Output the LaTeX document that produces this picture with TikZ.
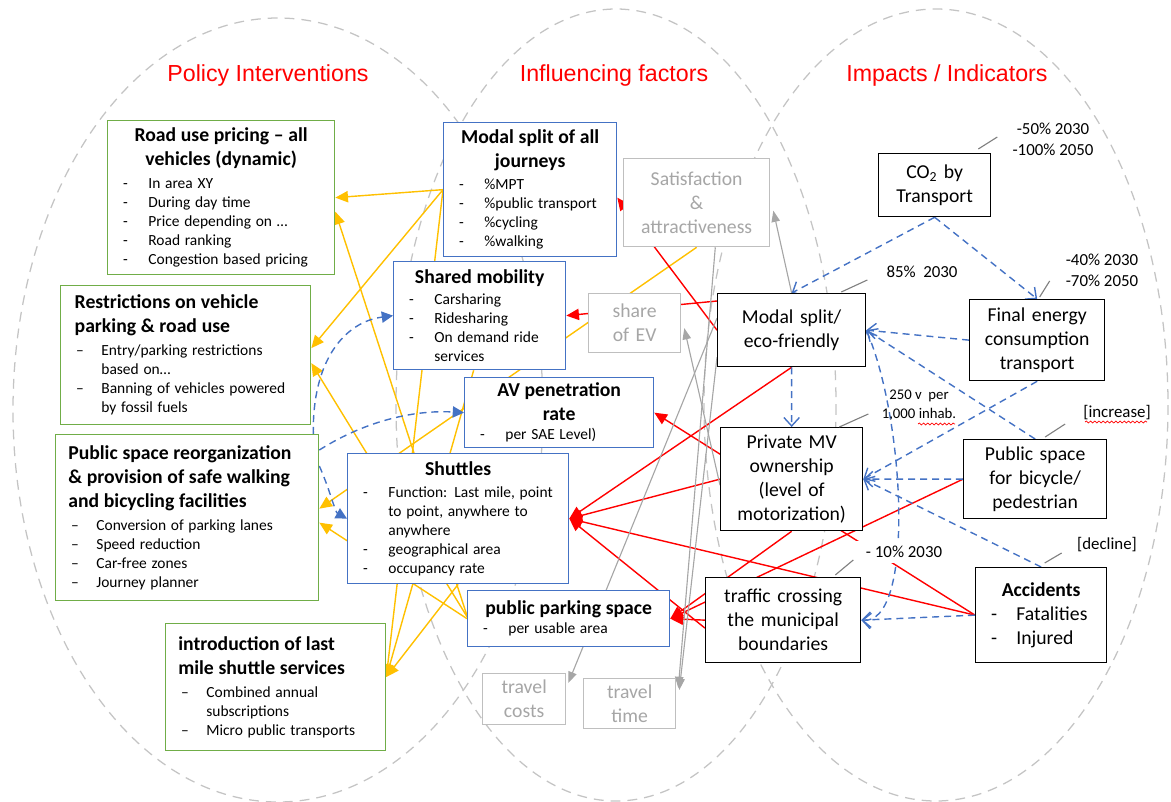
\documentclass[tikz,border=0pt]{standalone}
\usepackage{fontspec}
\setmainfont{Carlito}
\newfontfamily\titlefont{Liberation Sans}
\usetikzlibrary{positioning, arrows.meta, calc, decorations.pathmorphing}

\definecolor{polgreen}{HTML}{70AD47}
\definecolor{facblue}{HTML}{4472C4}
\definecolor{linkyellow}{HTML}{FFC000}
\definecolor{softgray}{HTML}{A6A6A6}
\definecolor{framegray}{HTML}{BFBFBF}
\definecolor{ellgray}{HTML}{C4C4C4}

\newcommand{\headfont}{\fontsize{14}{17}\selectfont\bfseries}
\newcommand{\bodyfont}{\normalfont\fontsize{11}{13.5}\selectfont}
\newcommand{\boxfont}{\normalfont\fontsize{14}{17}\selectfont}
\newcommand{\notefont}{\fontsize{12}{15}\selectfont}
\newcommand{\itm}[1]{\par\hangindent=24pt\hangafter=1\noindent\makebox[24pt][l]{\hspace{6pt}-}#1}
\newcommand{\itmd}[1]{\par\hangindent=24pt\hangafter=1\noindent\makebox[24pt][l]{\hspace{6pt}--}#1}

\pgfdeclarelayer{back}
\pgfdeclarelayer{links}
\pgfsetlayers{back,links,main}

\begin{document}
\begin{tikzpicture}[x=0.025cm, y=-0.025cm,
    sz/.style 2 args={minimum width=#1*0.7113pt, minimum height=#2*0.7113pt, text width=#1*0.7113pt-10pt},
    pbox/.style={rectangle, draw, fill=white, line width=0.9pt, anchor=north west,
        inner xsep=5pt, inner ysep=0pt, align=left},
    gbox/.style={pbox, draw=polgreen},
    bbox/.style={pbox, draw=facblue},
    kbox/.style={pbox, draw=black, align=center, font=\boxfont},
    grbox/.style={pbox, draw=framegray, text=softgray, align=center, font=\boxfont},
    ttl/.style={text=red, font=\titlefont\fontsize{16.5}{20}\selectfont},
    note/.style={font=\notefont, align=center, inner sep=1pt},
    ell/.style={draw=ellgray, line width=0.9pt, dash pattern=on 7pt off 5pt},
    yarr/.style={draw=linkyellow, line width=1pt, -{Triangle[length=9pt,width=8pt]}},
    rarr/.style={draw=red, line width=1pt, -{Triangle[length=9pt,width=8pt]}},
    garr/.style={draw=softgray, line width=0.8pt, -{Triangle[length=8pt,width=6pt]}},
    bdash/.style={draw=facblue, line width=1pt, dash pattern=on 5pt off 3.5pt},
    bopen/.style={bdash, -{Straight Barb[length=6pt,width=11pt]}},
    bboth/.style={bdash, {Straight Barb[length=6pt,width=11pt]}-{Straight Barb[length=6pt,width=11pt]}},
    bfill/.style={bdash, -{Triangle[length=8pt,width=8pt]}},
    lead/.style={draw=gray, line width=0.8pt},
    squig/.style={draw=red, line width=0.5pt, decorate, decoration={snake, amplitude=0.7pt, segment length=3pt}}
]
\useasboundingbox (0,0) rectangle (1171,802);

% three fields
\begin{pgfonlayer}{back}
\draw[ell] (278,410) ellipse [x radius=265, y radius=392];
\draw[ell] (616,405) ellipse [x radius=220, y radius=396];
\draw[ell] (936,405) ellipse [x radius=232, y radius=396];
\end{pgfonlayer}

\node[ttl] (ttlpol) at (268,75) {Policy Interventions};
\node[ttl] (ttlfac) at (614,75) {Influencing factors};
\node[ttl] (ttlimp) at (947,75) {Impacts / Indicators};

% policy interventions
\node[gbox, sz={227}{154}] (road) at (107,120)
    {\centering\headfont Road use pricing -- all\\ vehicles (dynamic)\par\vspace{3pt}
     \raggedright\bodyfont\itm{In area XY}\itm{During day time}\itm{Price depending on …}%
     \itm{Road ranking}\itm{Congestion based pricing}\par};
\node[gbox, sz={250}{139}] (restr) at (60,285)
    {{\raggedright\leftskip=5pt\headfont Restrictions on vehicle\\ parking \& road use\par}\vspace{3pt}
     \raggedright\bodyfont\itmd{Entry/parking restrictions\newline based on…}%
     \itmd{Banning of vehicles powered\newline by fossil fuels}\par};
\node[gbox, sz={263}{166}] (pubspace) at (55,434)
    {{\raggedright\leftskip=4pt\headfont Public space reorganization\\ \& provision of safe walking\\ and bicycling facilities\par}\vspace{3pt}
     \raggedright\bodyfont\itmd{Conversion of parking lanes}\itmd{Speed reduction}%
     \itmd{Car-free zones}\itmd{Journey planner}\par};
\node[gbox, sz={220}{127}] (lastmile) at (165,623)
    {{\raggedright\leftskip=4pt\headfont introduction of last\\ mile shuttle services\par}\vspace{3pt}
     \raggedright\bodyfont\itmd{Combined annual\newline subscriptions}\itmd{Micro public transports}\par};

% influencing factors
\node[bbox, sz={173}{134}] (msall) at (443,122)
    {\centering\headfont Modal split of all\\ journeys\par\vspace{2pt}
     \raggedright\bodyfont\itm{\%MPT}\itm{\%public transport}\itm{\%cycling}\itm{\%walking}\par};
\node[grbox, sz={146}{88}] (satisf) at (623,158) {Satisfaction\\ \&\\ attractiveness};
\node[bbox, sz={172}{108}] (shared) at (393,261)
    {\centering\headfont Shared mobility\par\vspace{2pt}
     \raggedright\bodyfont\itm{Carsharing}\itm{Ridesharing}\itm{On demand ride\newline services}\par};
\node[grbox, sz={92}{59}] (shareev) at (588,293) {share\\ of EV};
\node[bbox, sz={189}{70}] (avpen) at (464,377)
    {\centering\headfont AV penetration\\ rate\par
     \raggedright\bodyfont\itm{per SAE Level)}\par};
\node[bbox, sz={221}{130}] (shuttles) at (347,453)
    {\centering\headfont Shuttles\par\vspace{2pt}
     \raggedright\bodyfont\itm{Function: Last mile, point\newline to point, anywhere to\newline anywhere}%
     \itm{geographical area}\itm{occupancy rate}\par};
\node[bbox, sz={202}{56}] (parking) at (467,590)
    {\centering\headfont public parking space\par
     \raggedright\bodyfont\itm{per usable area}\par};
\node[grbox, sz={83}{51}] (tcost) at (482,673) {travel\\ costs};
\node[grbox, sz={92}{50}] (ttime) at (583,678) {travel\\ time};

% impacts
\node[kbox, sz={112}{63}] (co2) at (878,153) {CO\textsubscript{2} by\\ Transport};
\node[kbox, sz={148}{73}] (ecosplit) at (717,293) {Modal split/\\ eco-friendly};
\node[kbox, sz={135}{81}] (energy) at (969,299) {Final energy\\ consumption\\ transport};
\node[kbox, sz={142}{103}] (privmv) at (720,427) {Private MV\\ ownership\\ (level of\\ motorization)};
\node[kbox, sz={143}{79}] (pubbike) at (963,439) {Public space\\ for bicycle/\\ pedestrian};
\node[kbox, sz={155}{85}] (traffic) at (705,577) {traffic crossing\\ the municipal\\ boundaries};
\node[pbox, draw=black, sz={131}{95}] (accid) at (975,567)
    {\centering\headfont Accidents\par
     \raggedright\boxfont\itm{Fatalities}\itm{Injured}\par};

% targets
\node[note] (n1) at (1053,139) {-50\% 2030\\ -100\% 2050};
\node[note] (n2) at (922,272) {85\%\ \ 2030};
\node[note] (n3) at (1102,270) {-40\% 2030\\ -70\% 2050};
\node[note, font=\fontsize{10.5}{13.5}\selectfont] (n4) at (919,405) {250 v\ \ per\\ 1,000 inhab.};
\node[note] (n5) at (1117,413) {[increase]};
\node[note] (n6) at (1107,545) {[decline]};
\node[note, fill=white, inner xsep=8pt, inner ysep=4pt] (n7) at (904,552) {- 10\% 2030};

\draw[lead] ($(co2.north east)+(-13,-4)$) -- ++(19,-12);
\draw[lead] ($(ecosplit.north east)+(-25,-1)$) -- ++(26,-12);
\draw[lead] ($(energy.north)+(2.5,-2)$) -- ++(10,-16);
\draw[lead] ($(privmv.north east)+(-24,0)$) -- ++(29,-13);
\draw[lead] ($(pubbike.north)+(10,-2)$) -- ++(20,-13);
\draw[lead] ($(accid.north)+(3.5,-4)$) -- ++(17,-10);
\draw[lead] ($(traffic.north east)+(-26,-2)$) -- ++(18,-15);
\draw[squig] (918,424) -- (955,424);
\draw[squig] (1085,422) -- (1147,422);

\begin{pgfonlayer}{links}
% factors -> interventions
\draw[yarr] (msall.west) -- (road.east);
\draw[yarr] (msall.west) -- ($(restr.east)+(0,-7)$);
\draw[yarr] (msall.west) -- ($(lastmile.north east)+(0,54)$);
\draw[yarr] ($(parking.west)+(0,-3)$) -- ($(road.east)+(0,14)$);
\draw[yarr] ($(parking.west)+(0,-2)$) -- ($(restr.east)+(0,8)$);
\draw[yarr] (parking.west) -- ($(pubspace.east)+(0,5)$);
\draw[yarr] (satisf.south) -- ($(pubspace.east)+(0,-9)$);
\draw[yarr] ($(shared.south)+(-6,0)$) -- ($(lastmile.north east)+(0,54)$);
\draw[yarr] (shuttles.south) -- ($(lastmile.north east)+(0,54)$);

% impacts -> factors
\draw[rarr] ($(ecosplit.north west)+(0,8)$) -- (shared.east);
\draw[rarr] (ecosplit.west) -- ($(msall.east)+(0,8)$);
\draw[rarr] (accid.west) -- (avpen.east);
\draw[rarr] (privmv.west) -- (shuttles.east);
\draw[rarr] (ecosplit.south) -- (shuttles.east);
\draw[rarr] (accid.west) -- (shuttles.east);
\draw[rarr] ($(traffic.west)+(0,8)$) -- (shuttles.east);
\draw[rarr] (traffic.west) -- (parking.east);
\draw[rarr] (pubbike.west) -- (parking.east);
\draw[rarr] (privmv.south) -- (parking.east);

\draw[garr] (ecosplit.north) -- ($(satisf.east)+(3,8)$);
\draw[garr] ($(privmv.west)+(0,6)$) -- ($(shareev.east)+(3,5)$);
\draw[garr] ($(ecosplit.west)+(0,-12)$) -- ($(tcost.north east)+(2,10)$);
\draw[garr] ($(ecosplit.south west)+(0,-10)$) -- ($(ttime.north east)+(3,12)$);
\draw[garr] ($(satisf.south east)+(-55,0)$) -- ($(ttime.north east)+(2,10)$);

% impacts among themselves
\draw[bopen] (co2.south) -- (ecosplit.north);
\draw[bopen] (co2.south) -- (energy.north);
\draw[bopen] (energy.west) -- (ecosplit.east);
\draw[bopen] (pubbike.north) -- (ecosplit.east);
\draw[bboth] (ecosplit.east) .. controls (905,420) and (915,625) .. (traffic.east);
\draw[bopen] (accid.west) -- (traffic.east);
\draw[bopen] (accid.north) -- (privmv.east);
\draw[bopen] (pubbike.west) -- (privmv.east);
\draw[bopen] (energy.south) -- (privmv.east);
\draw[bopen] (ecosplit.south) -- (privmv.north);

% interventions -> factors
\draw[bfill] ($(pubspace.north east)+(-6,0)$) .. controls (312,360) and (345,322) .. (shared.west);
\draw[bfill] ($(pubspace.north east)+(0,16)$) .. controls (370,418) and (420,410) .. (avpen.west);
\draw[bfill] ($(pubspace.north east)+(0,32)$) .. controls (330,490) and (335,512) .. (shuttles.west);
\end{pgfonlayer}

\end{tikzpicture}
\end{document}
